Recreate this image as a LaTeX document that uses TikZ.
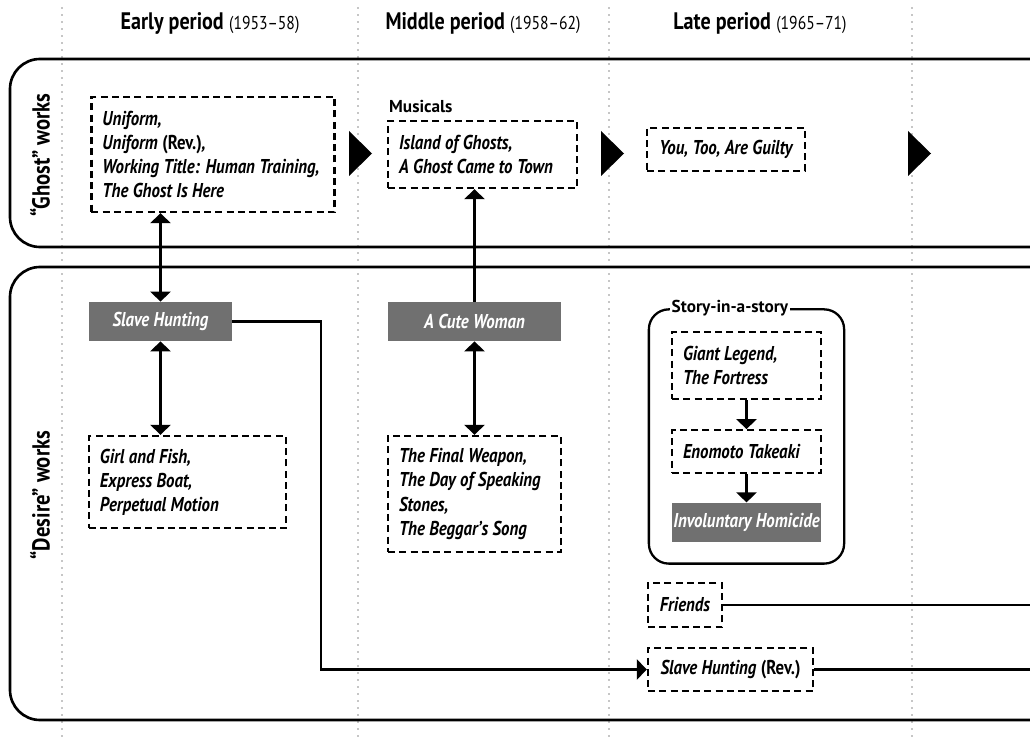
\documentclass[tikz,border=0pt]{standalone}
\usepackage{fontspec}
\setmainfont[FakeStretch=0.84]{PT Sans}
\newfontfamily\tagfont{PT Sans}
\usepackage{tikz}
\usetikzlibrary{arrows.meta, calc, fit, positioning}

\definecolor{titlegray}{HTML}{707070}
\definecolor{dotgray}{HTML}{8C8C8C}

\newcommand{\titlesize}{\fontsize{11.4}{13.7}\selectfont\spaceskip=0.22em\relax\hyphenpenalty=10000\relax}
\newcommand{\yearsize}{\fontsize{10.6}{12}\selectfont}

\begin{document}
\begin{tikzpicture}[
	x=0.2mm, y=-0.2mm,
	period line/.style = {dotgray, line width=0.35mm, line cap=round, dash pattern=on 0mm off 1.4mm},
	period head/.style = {inner sep=0pt, font=\fontsize{13.6}{15}\selectfont},
	panel/.style = {line width=1.5pt, rounded corners=6mm},
	side label/.style = {rotate=90, inner sep=0pt, font=\fontsize{14}{15}\selectfont\bfseries},
	work box/.style = {draw, line width=1.3pt, dash pattern=on 1.4mm off 0.85mm, inner xsep=2.2mm, inner ysep=1mm, font=\bfseries\itshape\titlesize, align=flush left},
	work list/.style = {work box, text width=#1},
	play box/.style = {fill=titlegray, text=white, minimum height=7.8mm, inner sep=0pt, font=\bfseries\itshape\titlesize},
	story frame/.style = {draw, line width=1.3pt, rounded corners=4mm, inner xsep=4.4mm, inner ysep=4.3mm},
	tag label/.style = {inner sep=0.4mm, font=\tagfont\fontsize{9.8}{11}\selectfont\bfseries},
	link/.style = {line width=1.3pt},
	one way/.style = {-{Triangle[width=4mm, length=2mm]}},
	two way/.style = {{Triangle[width=4mm, length=2mm]}-{Triangle[width=4mm, length=2mm]}}
]

\useasboundingbox (0,0) rectangle (1030,743);
\clip (0,0) rectangle (1030,743);

\foreach \x in {62, 358, 609, 912}
	\draw[period line] (\x,8) -- (\x,743);

\node[period head] (early) at (210,23) {\textbf{Early period} {\yearsize(1953–58)}};
\node[period head] (middle) at (483,23) {\textbf{Middle period} {\yearsize(1958–62)}};
\node[period head] (late) at (760,23) {\textbf{Late period} {\yearsize(1965–71)}};

\draw[panel] (10,59) rectangle (1080,247);
\draw[panel] (10,267) rectangle (1080,720);

\node[side label] (ghost works) at (40,155) {“Ghost” works};
\node[side label] (desire works) at (40,495) {“Desire” works};

\node[work list=44.2mm, minimum height=23mm] (uniform) at (213,154.5) {Uniform,\\Uniform \textup{(Rev.)},\\Working Title: Human Training,\\The Ghost Is Here};
\node[work list=33.4mm, minimum height=13.4mm] (island) at (482.5,154.5) {Island of Ghosts,\\A Ghost Came to Town};
\node[tag label, above right=1mm and 0mm of island.north west] (musicals) {Musicals};
\node[work box, minimum width=31.6mm, minimum height=8.6mm, align=center] (guilty) at (726,149.5) {You, Too, Are Guilty};

\foreach \x in {349, 601, 908}
	\fill (\x,131) -- (\x,176) -- (\x+23,153.5) -- cycle;

\node[play box, minimum width=28.6mm] (slave) at (160.5,321.5) {Slave Hunting};
\node[play box, minimum width=34.6mm] (cute) at (474.5,321.5) {A Cute Woman};

\node[work list=35mm, minimum height=18.4mm] (girl) at (187.5,482) {Girl and Fish,\\Express Boat,\\Perpetual Motion};
\node[work list=30.2mm, minimum height=23.2mm] (weapon) at (474.5,494) {The Final Weapon,\\The Day of Speaking\\Stones,\\The Beggar’s Song};

\node[work list=25.4mm, minimum height=13.4mm] (giant) at (746.5,365.5) {Giant Legend,\\The Fortress};
\node[work list=25.4mm, minimum height=8.6mm, below=5.8mm of giant] (enomoto) {Enomoto Takeaki};
\node[play box, minimum width=29.8mm, below=5.6mm of enomoto] (homicide) {Involuntary Homicide};
\node[story frame, fit=(giant) (homicide)] (story) {};
\node[tag label, fill=white, anchor=west, inner xsep=0.3mm] (story label) at ($(giant.west |- story.north)+(-1,0)$) {Story-in-a-story};

\node[work box, minimum width=14.8mm, minimum height=8.8mm, align=center] (friends) at (685,605) {Friends};
\node[work box, minimum width=33mm, minimum height=8.6mm, align=center] (slave rev) at (730.5,669.5) {Slave Hunting \textup{(Rev.)}};

\coordinate (bend) at (321,0);
\coordinate (right edge) at (1040,0);

\draw[link, two way] (slave.north) -- (slave.north |- uniform.south);
\draw[link, two way] (slave.south) -- (slave.south |- girl.north);
\draw[link, one way] (cute.north) -- (cute.north |- island.south);
\draw[link, two way] (cute.south) -- (cute.south |- weapon.north);
\draw[link, one way] (giant) -- (enomoto);
\draw[link, one way] (enomoto) -- (homicide);
\draw[link, one way] (slave.east) -| (bend |- slave rev.west) -- (slave rev.west);
\draw[link] (friends.east) -- (friends.east -| right edge);
\draw[link] (slave rev.east) -- (slave rev.east -| right edge);

\end{tikzpicture}
\end{document}
